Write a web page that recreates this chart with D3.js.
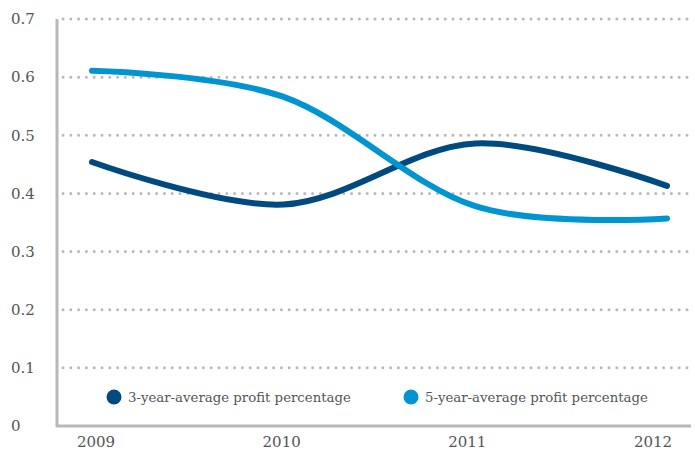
<!DOCTYPE html>
<html>
<head>
<meta charset="utf-8">
<script src="https://cdn.jsdelivr.net/npm/d3@7"></script>
<style>
  html, body { margin: 0; padding: 0; background: #fff; }
  svg text { font-family: "DejaVu Serif", "Liberation Serif", serif; fill: #555; }
</style>
</head>
<body>
<svg id="chart" width="695" height="450"></svg>
<script>
// Profit percentage averages by year
const years = ["2009", "2010", "2011", "2012"];
const threeYearAvg = [0.454, 0.381, 0.486, 0.413];
const fiveYearAvg = [0.611, 0.566, 0.378, 0.357];
const yTicks = [0, 0.1, 0.2, 0.3, 0.4, 0.5, 0.6, 0.7];
const seriesNames = ["3-year-average profit percentage", "5-year-average profit percentage"];
const seriesColors = ["#004a80", "#0095d0"];

const svg = d3.select("#chart");

// Line points span the plot; year labels sit on a slightly narrower span
const x = d3.scalePoint().domain(years).range([92, 667]);
const xLabel = d3.scalePoint().domain(years).range([96, 653]);
const y = d3.scaleLinear().domain([0, 0.7]).range([426, 19]);

// Dotted horizontal gridlines
svg.append("g")
  .selectAll("line")
  .data(yTicks.filter(d => d > 0))
  .join("line")
  .attr("x1", 63).attr("x2", 690)
  .attr("y1", d => y(d)).attr("y2", d => y(d))
  .attr("stroke", "#b9b9bb")
  .attr("stroke-width", 3)
  .attr("stroke-linecap", "round")
  .attr("stroke-dasharray", "0 7.8");

// Y tick labels
svg.append("g")
  .selectAll("text")
  .data(yTicks)
  .join("text")
  .attr("x", 11)
  .attr("y", d => y(d))
  .attr("dy", "0.35em")
  .attr("font-size", 15)
  .text(d => d === 0 ? "0" : d3.format(".1f")(d));

// Axis lines
svg.append("line")
  .attr("x1", 57).attr("x2", 57).attr("y1", 19).attr("y2", 427)
  .attr("stroke", "#b8b8bb").attr("stroke-width", 3);
svg.append("line")
  .attr("x1", 56).attr("x2", 691).attr("y1", 426).attr("y2", 426)
  .attr("stroke", "#b8b8bb").attr("stroke-width", 3);

// X tick labels
svg.append("g")
  .selectAll("text")
  .data(years)
  .join("text")
  .attr("x", d => xLabel(d))
  .attr("y", 442)
  .attr("dy", "0.35em")
  .attr("text-anchor", "middle")
  .attr("font-size", 15)
  .text(d => d);

// Lines
const line = d3.line()
  .x((d, i) => x(years[i]))
  .y(d => y(d))
  .curve(d3.curveCardinal.tension(0));

[threeYearAvg, fiveYearAvg].forEach((vals, i) => {
  svg.append("path")
    .datum(vals)
    .attr("d", line)
    .attr("fill", "none")
    .attr("stroke", seriesColors[i])
    .attr("stroke-width", 6)
    .attr("stroke-linecap", "round");
});

// Legend
const legendX = [114, 411];
const legend = svg.append("g")
  .selectAll("g")
  .data(seriesNames)
  .join("g")
  .attr("transform", (d, i) => `translate(${legendX[i]},397)`);
legend.append("circle")
  .attr("r", 7.5)
  .attr("fill", (d, i) => seriesColors[i]);
legend.append("text")
  .attr("x", 14)
  .attr("dy", "0.35em")
  .attr("font-size", 13.3)
  .text(d => d);
</script>
</body>
</html>
